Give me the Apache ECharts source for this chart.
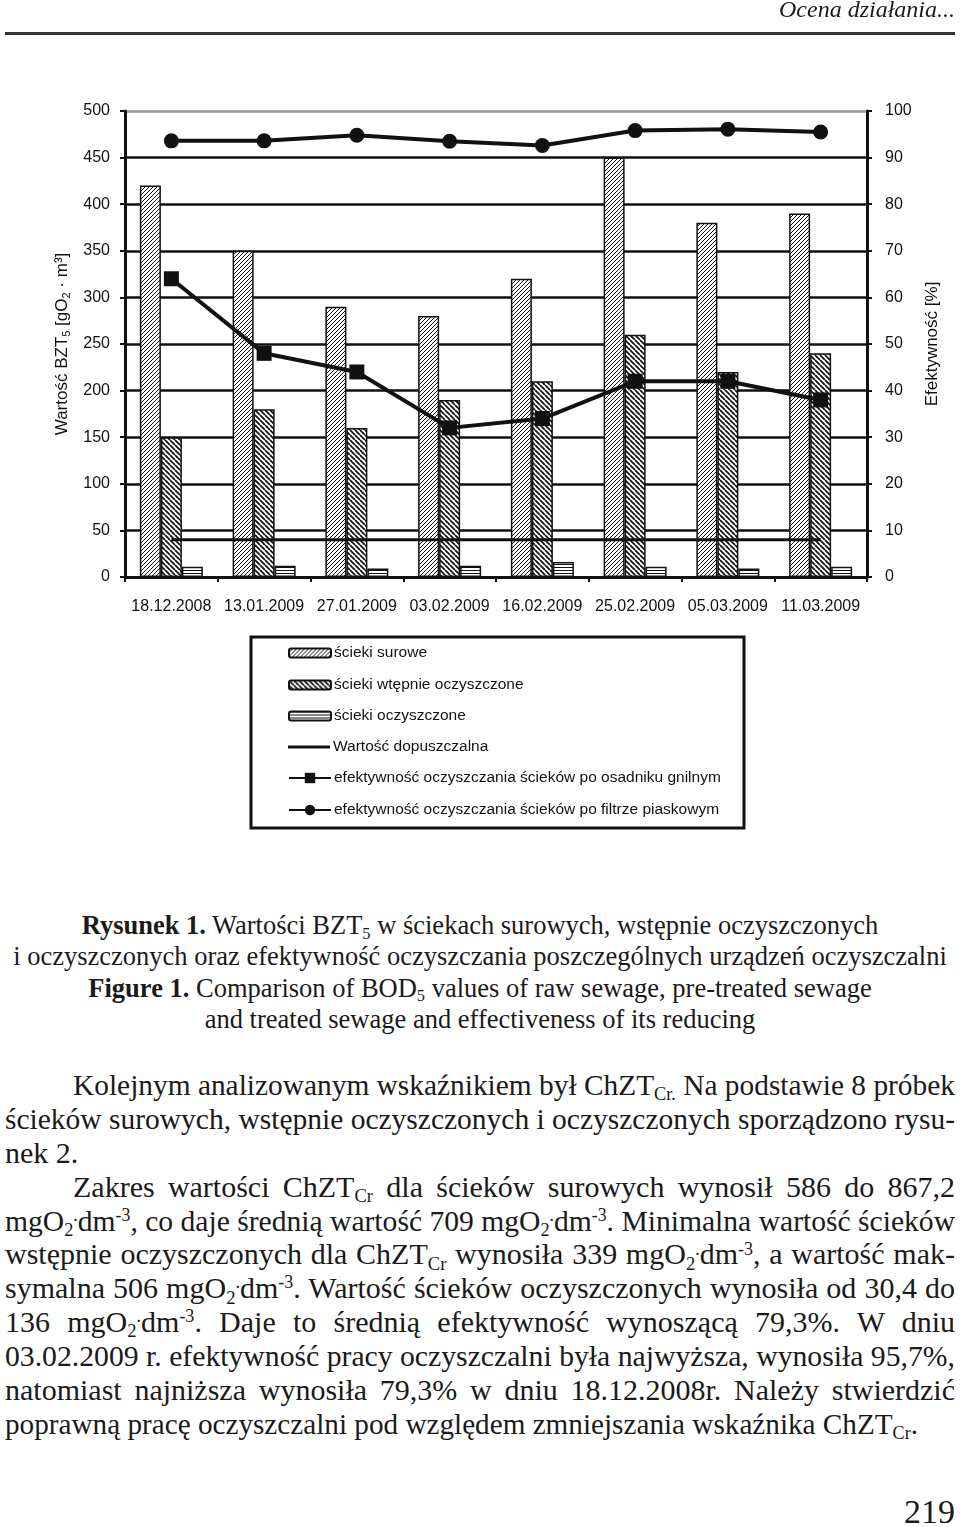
<!DOCTYPE html>
<html>
<head>
<meta charset="utf-8">
<script src="https://cdn.jsdelivr.net/npm/echarts@6/dist/echarts.min.js"></script>
<style>
html,body{margin:0;padding:0;background:#fff;}
#page{position:relative;width:960px;height:1527px;overflow:hidden;background:#fff;}
#chart{position:absolute;left:0;top:0;width:960px;height:850px;}
.serif{font-family:"Liberation Serif","Times New Roman",serif;color:#1a1a1a;}
#hdr{position:absolute;right:5px;top:-4px;font-size:24px;font-style:italic;z-index:2;}
#hline{position:absolute;left:5px;width:950px;top:32px;height:3px;background:#333;z-index:2;}
#cap{position:absolute;left:0;width:960px;top:910px;font-size:26.5px;line-height:31.4px;text-align:center;}
#cap div{white-space:nowrap;}
#body{position:absolute;left:5px;width:950px;top:1068px;font-size:30px;line-height:33.9px;}
.ln{white-space:nowrap;width:950px;text-align:left;height:33.9px;}
.ln.ind{text-indent:68px;}
.ln > span{text-indent:0;}
.sub{font-size:0.62em;position:relative;top:0.28em;line-height:0;}
.sup{font-size:0.6em;position:relative;top:-0.55em;line-height:0;}
#pg{position:absolute;right:5px;top:1494px;font-size:34px;line-height:36px;}
</style>
</head>
<body>
<div id="page">
<div id="chart"></div>
<div id="hdr" class="serif">Ocena działania...</div>
<div id="hline"></div>
<div id="cap" class="serif">
<div><b>Rysunek 1.</b> Wartości BZT<span class="sub">5</span> w ściekach surowych, wstępnie oczyszczonych</div>
<div>i oczyszczonych oraz efektywność oczyszczania poszczególnych urządzeń oczyszczalni</div>
<div><b>Figure 1.</b> Comparison of BOD<span class="sub">5</span> values of raw sewage, pre-treated sewage</div>
<div>and treated sewage and effectiveness of its reducing</div>
</div>
<div id="body" class="serif">
<div class="ln ind j"><span>Kolejnym analizowanym wskaźnikiem był ChZT<span class="sub">Cr.</span> Na podstawie 8 próbek</span></div>
<div class="ln j"><span>ścieków surowych, wstępnie oczyszczonych i oczyszczonych sporządzono rysu-</span></div>
<div class="ln"><span>nek 2.</span></div>
<div class="ln ind j"><span>Zakres wartości ChZT<span class="sub">Cr</span> dla ścieków surowych wynosił 586 do 867,2</span></div>
<div class="ln j"><span>mgO<span class="sub">2</span><span class="sup">.</span>dm<span class="sup">-3</span>, co daje średnią wartość 709 mgO<span class="sub">2</span><span class="sup">.</span>dm<span class="sup">-3</span>. Minimalna wartość ścieków</span></div>
<div class="ln j"><span>wstępnie oczyszczonych dla ChZT<span class="sub">Cr</span> wynosiła 339 mgO<span class="sub">2</span><span class="sup">.</span>dm<span class="sup">-3</span>, a wartość mak-</span></div>
<div class="ln j"><span>symalna 506 mgO<span class="sub">2</span><span class="sup">.</span>dm<span class="sup">-3</span>. Wartość ścieków oczyszczonych wynosiła od 30,4 do</span></div>
<div class="ln j"><span>136 mgO<span class="sub">2</span><span class="sup">.</span>dm<span class="sup">-3</span>. Daje to średnią efektywność wynoszącą 79,3%. W dniu</span></div>
<div class="ln j"><span>03.02.2009 r. efektywność pracy oczyszczalni była najwyższa, wynosiła 95,7%,</span></div>
<div class="ln j"><span>natomiast najniższa wynosiła 79,3% w dniu 18.12.2008r. Należy stwierdzić</span></div>
<div class="ln" data-w="913"><span>poprawną pracę oczyszczalni pod względem zmniejszania wskaźnika ChZT<span class="sub">Cr</span>.</span></div>
</div>
<div id="pg" class="serif">219</div>
</div>
<script>
// ---- data ----
const categories = ['18.12.2008','13.01.2009','27.01.2009','03.02.2009','16.02.2009','25.02.2009','05.03.2009','11.03.2009'];
const rawSewage = [420, 350, 290, 280, 320, 450, 380, 390];
const preTreated = [150, 180, 160, 190, 210, 260, 220, 240];
const treated = [11, 12, 9, 12, 16, 11, 9, 11];
const limitValue = [40, 40, 40, 40, 40, 40, 40, 40];
const effSeptic = [64, 48, 44, 32, 34, 42, 42, 38];
const effSandFilter = [93.6, 93.6, 94.8, 93.5, 92.6, 95.8, 96.1, 95.5];
const leftTicks = {min: 0, max: 500, interval: 50};
const rightTicks = {min: 0, max: 100, interval: 10};
const seriesNames = ['ścieki surowe','ścieki wtępnie oczyszczone','ścieki oczyszczone','Wartość dopuszczalna','efektywność oczyszczania ścieków po osadniku gnilnym','efektywność oczyszczania ścieków po filtrze piaskowym'];

// ---- fit body lines ----
document.querySelectorAll('.ln').forEach(el => {
  const span = el.firstElementChild;
  const ind = el.classList.contains('ind') ? 68 : 0;
  const avail = (el.dataset.w ? +el.dataset.w : 950) - ind;
  const w = span.getBoundingClientRect().width;
  if (w > avail) {
    span.style.display = 'inline-block';
    span.style.textIndent = '0';
    span.style.transformOrigin = 'left center';
    span.style.transform = 'scaleX(' + (avail / w) + ')';
  } else if (el.classList.contains('j')) {
    el.style.textAlign = 'justify';
    el.style.textAlignLast = 'justify';
  }
});

// ---- hatch patterns ----
function pattern(kind) {
  const c = document.createElement('canvas');
  const ctx = c.getContext('2d');
  if (kind === 'h') {
    c.width = 4; c.height = 3;
    ctx.fillStyle = '#fff'; ctx.fillRect(0, 0, 4, 3);
    ctx.fillStyle = '#111'; ctx.fillRect(0, 0, 4, 1);
    return c;
  }
  const s = kind === 'f' ? 4 : 5;
  c.width = s; c.height = s;
  ctx.fillStyle = '#fff'; ctx.fillRect(0, 0, s, s);
  ctx.strokeStyle = '#111';
  ctx.lineWidth = kind === 'f' ? 1 : 1.7;
  ctx.beginPath();
  for (let k = -1; k <= 1; k++) {
    if (kind === 'f') { ctx.moveTo(k * s, s); ctx.lineTo(k * s + s, 0); }
    else { ctx.moveTo(k * s, 0); ctx.lineTo(k * s + s, s); }
  }
  ctx.stroke();
  return c;
}
const patRaw = {image: pattern('f'), repeat: 'repeat'};
const patPre = {image: pattern('b'), repeat: 'repeat'};
const patTr = {image: pattern('h'), repeat: 'repeat'};

const FONT = '"Liberation Sans", Arial, sans-serif';
const chart = echarts.init(document.getElementById('chart'), null, {renderer: 'canvas'});

const splitColors = [];
for (let i = 0; i < 10; i++) splitColors.push('#111');
splitColors.push('#999');

const legendCenters = [654, 686, 717, 748, 779, 811];
const legends = seriesNames.map((n, i) => {
  const l = {
    data: [n], orient: 'horizontal', left: 288, top: legendCenters[i] - 9, padding: 0,
    itemWidth: 42, itemHeight: i < 3 ? 9 : 13, itemGap: 4, selectedMode: false,
    textStyle: {fontSize: 15.5, color: '#111', fontFamily: FONT, padding: [0, 0, 0, -2]}
  };
  if (i === 3) { l.icon = 'rect'; l.itemHeight = 3; }
  return l;
});

const option = {
  animation: false,
  backgroundColor: '#fff',
  grid: {left: 125, right: 93, top: 111, height: 466},
  legend: legends,
  graphic: [{type: 'rect', shape: {x: 251, y: 637, width: 493, height: 191}, style: {fill: 'none', stroke: '#111', lineWidth: 3}}],
  xAxis: {
    type: 'category', data: categories, boundaryGap: true,
    axisLine: {lineStyle: {color: '#111', width: 3}},
    axisTick: {show: true, length: 5, lineStyle: {color: '#111', width: 2}},
    axisLabel: {color: '#111', fontSize: 16, fontFamily: FONT, margin: 22, interval: 0},
    splitLine: {show: false}
  },
  yAxis: [{
    type: 'value', min: leftTicks.min, max: leftTicks.max, interval: leftTicks.interval,
    name: '{a|Wartość BZT}{s|5}{a| [gO}{s|2}{a| · m³]}',
    nameLocation: 'middle', nameRotate: 90, nameGap: 49,
    nameTextStyle: {color: '#111', fontFamily: FONT, rich: {
      a: {fontSize: 17, fontFamily: FONT, color: '#111', lineHeight: 20},
      s: {fontSize: 11, fontFamily: FONT, color: '#111', lineHeight: 20, verticalAlign: 'bottom', padding: [7, 0, 0, 0]}
    }},
    axisLine: {show: true, lineStyle: {color: '#111', width: 3}},
    axisTick: {show: true, length: 5, lineStyle: {color: '#111', width: 2}},
    axisLabel: {color: '#111', fontSize: 16, fontFamily: FONT, margin: 15},
    splitLine: {show: true, lineStyle: {color: splitColors, width: 2.5}}
  }, {
    type: 'value', position: 'right', min: rightTicks.min, max: rightTicks.max, interval: rightTicks.interval,
    name: 'Efektywność [%]', nameLocation: 'middle', nameRotate: 90, nameGap: 48,
    nameTextStyle: {color: '#111', fontSize: 17, fontFamily: FONT, lineHeight: 20},
    axisLine: {show: true, lineStyle: {color: '#111', width: 3}},
    axisTick: {show: true, length: 5, lineStyle: {color: '#111', width: 2}},
    axisLabel: {color: '#111', fontSize: 16, fontFamily: FONT, margin: 18},
    splitLine: {show: false}
  }],
  series: [
    {name: seriesNames[0], type: 'bar', data: rawSewage, barWidth: 21, barGap: '0%',
      itemStyle: {color: patRaw, borderColor: '#111', borderWidth: 1.5}},
    {name: seriesNames[1], type: 'bar', data: preTreated, barWidth: 21, barGap: '0%',
      itemStyle: {color: patPre, borderColor: '#111', borderWidth: 1.5}},
    {name: seriesNames[2], type: 'bar', data: treated, barWidth: 21, barGap: '0%',
      itemStyle: {color: patTr, borderColor: '#111', borderWidth: 1.5}},
    {name: seriesNames[3], type: 'line', yAxisIndex: 0, data: limitValue, symbol: 'none', z: 5,
      lineStyle: {color: '#111', width: 3}, itemStyle: {color: '#111'}},
    {name: seriesNames[4], type: 'line', yAxisIndex: 1, data: effSeptic, symbol: 'rect', symbolSize: 15, z: 6,
      lineStyle: {color: '#111', width: 4}, itemStyle: {color: '#111'}},
    {name: seriesNames[5], type: 'line', yAxisIndex: 1, data: effSandFilter, symbol: 'circle', symbolSize: 15, z: 6,
      lineStyle: {color: '#111', width: 4}, itemStyle: {color: '#111'}}
  ]
};
chart.setOption(option);
</script>
</body>
</html>
